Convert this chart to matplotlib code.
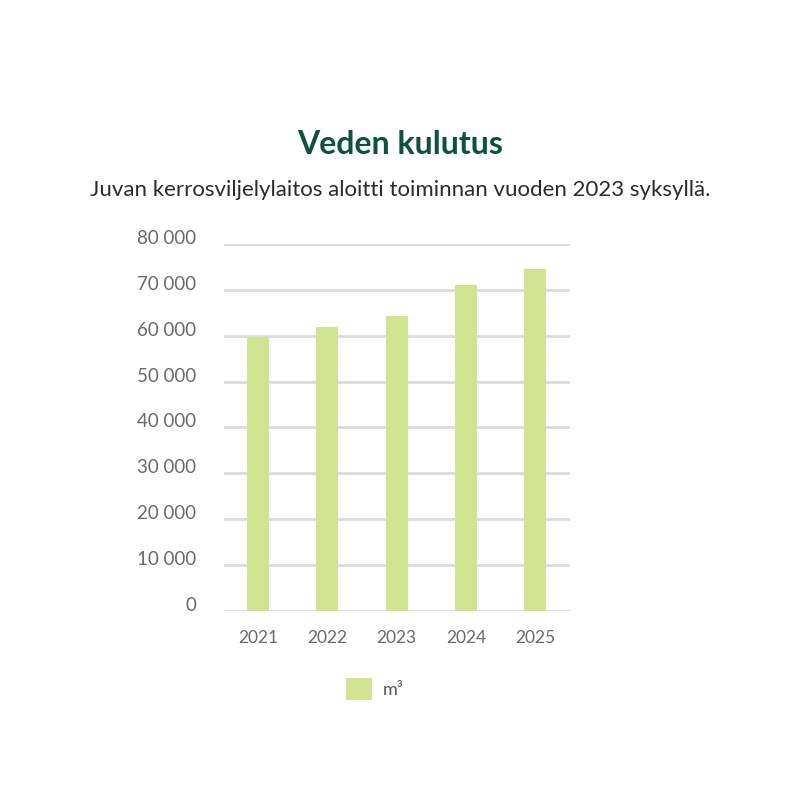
import matplotlib.pyplot as plt
import matplotlib.transforms as mtransforms
from matplotlib.ticker import FuncFormatter

years = ['2021', '2022', '2023', '2024', '2025']
water_m3 = [59800, 61800, 64400, 71000, 74600]
y_ticks = [0, 10000, 20000, 30000, 40000, 50000, 60000, 70000, 80000]

title = 'Veden kulutus'
subtitle = 'Juvan kerrosviljelylaitos aloitti toiminnan vuoden 2023 syksyllä.'
legend_label = 'm³'

bar_color = '#d2e391'
grid_color = '#dcdcdc'
title_color = '#0d5140'
tick_color = '#6a6a6a'

plt.rcParams['font.family'] = ['Lato', 'DejaVu Sans']

fig = plt.figure(figsize=(8, 8), dpi=100)
fig.patch.set_facecolor('white')

ax = fig.add_axes([0.28, 0.2366, 0.4325, 0.4584])
x = range(len(years))
bars = ax.bar(x, water_m3, width=0.32, color=bar_color, zorder=3, label=legend_label)

ax.set_xlim(-0.49, 4.5)
ax.set_ylim(0, 80000)
ax.set_yticks(y_ticks)
ax.yaxis.set_major_formatter(FuncFormatter(lambda v, p: f'{int(v):,}'.replace(',', ' ')))
ax.set_xticks(list(x))
ax.set_xticklabels(years)

ax.grid(axis='y', color=grid_color, linewidth=2, zorder=0)
for s in ax.spines.values():
    s.set_visible(False)
ax.tick_params(axis='both', length=0, colors=tick_color, labelsize=12.5)
ax.tick_params(axis='y', pad=20, labelsize=13.5)
ax.tick_params(axis='x', pad=14)

# labels sit slightly above their gridlines
shift = mtransforms.ScaledTranslation(0, 5 / 72, fig.dpi_scale_trans)
for lbl in ax.get_yticklabels():
    lbl.set_transform(lbl.get_transform() + shift)

fig.text(0.5, 1 - 144 / 800, title, ha='center', va='center',
         fontsize=23, fontweight='bold', color=title_color)
fig.text(0.5, 1 - 190 / 800, subtitle, ha='center', va='center',
         fontsize=16, color='#2b2b2b')

fig.legend(handles=[bars], labels=[legend_label], loc='center',
           bbox_to_anchor=(375 / 800, 1 - 689 / 800), frameon=False,
           fontsize=13, handlelength=1.45, handleheight=1.45,
           handletextpad=0.6, labelcolor='#555555')

fig.savefig('out.png', dpi=100, facecolor='white')
